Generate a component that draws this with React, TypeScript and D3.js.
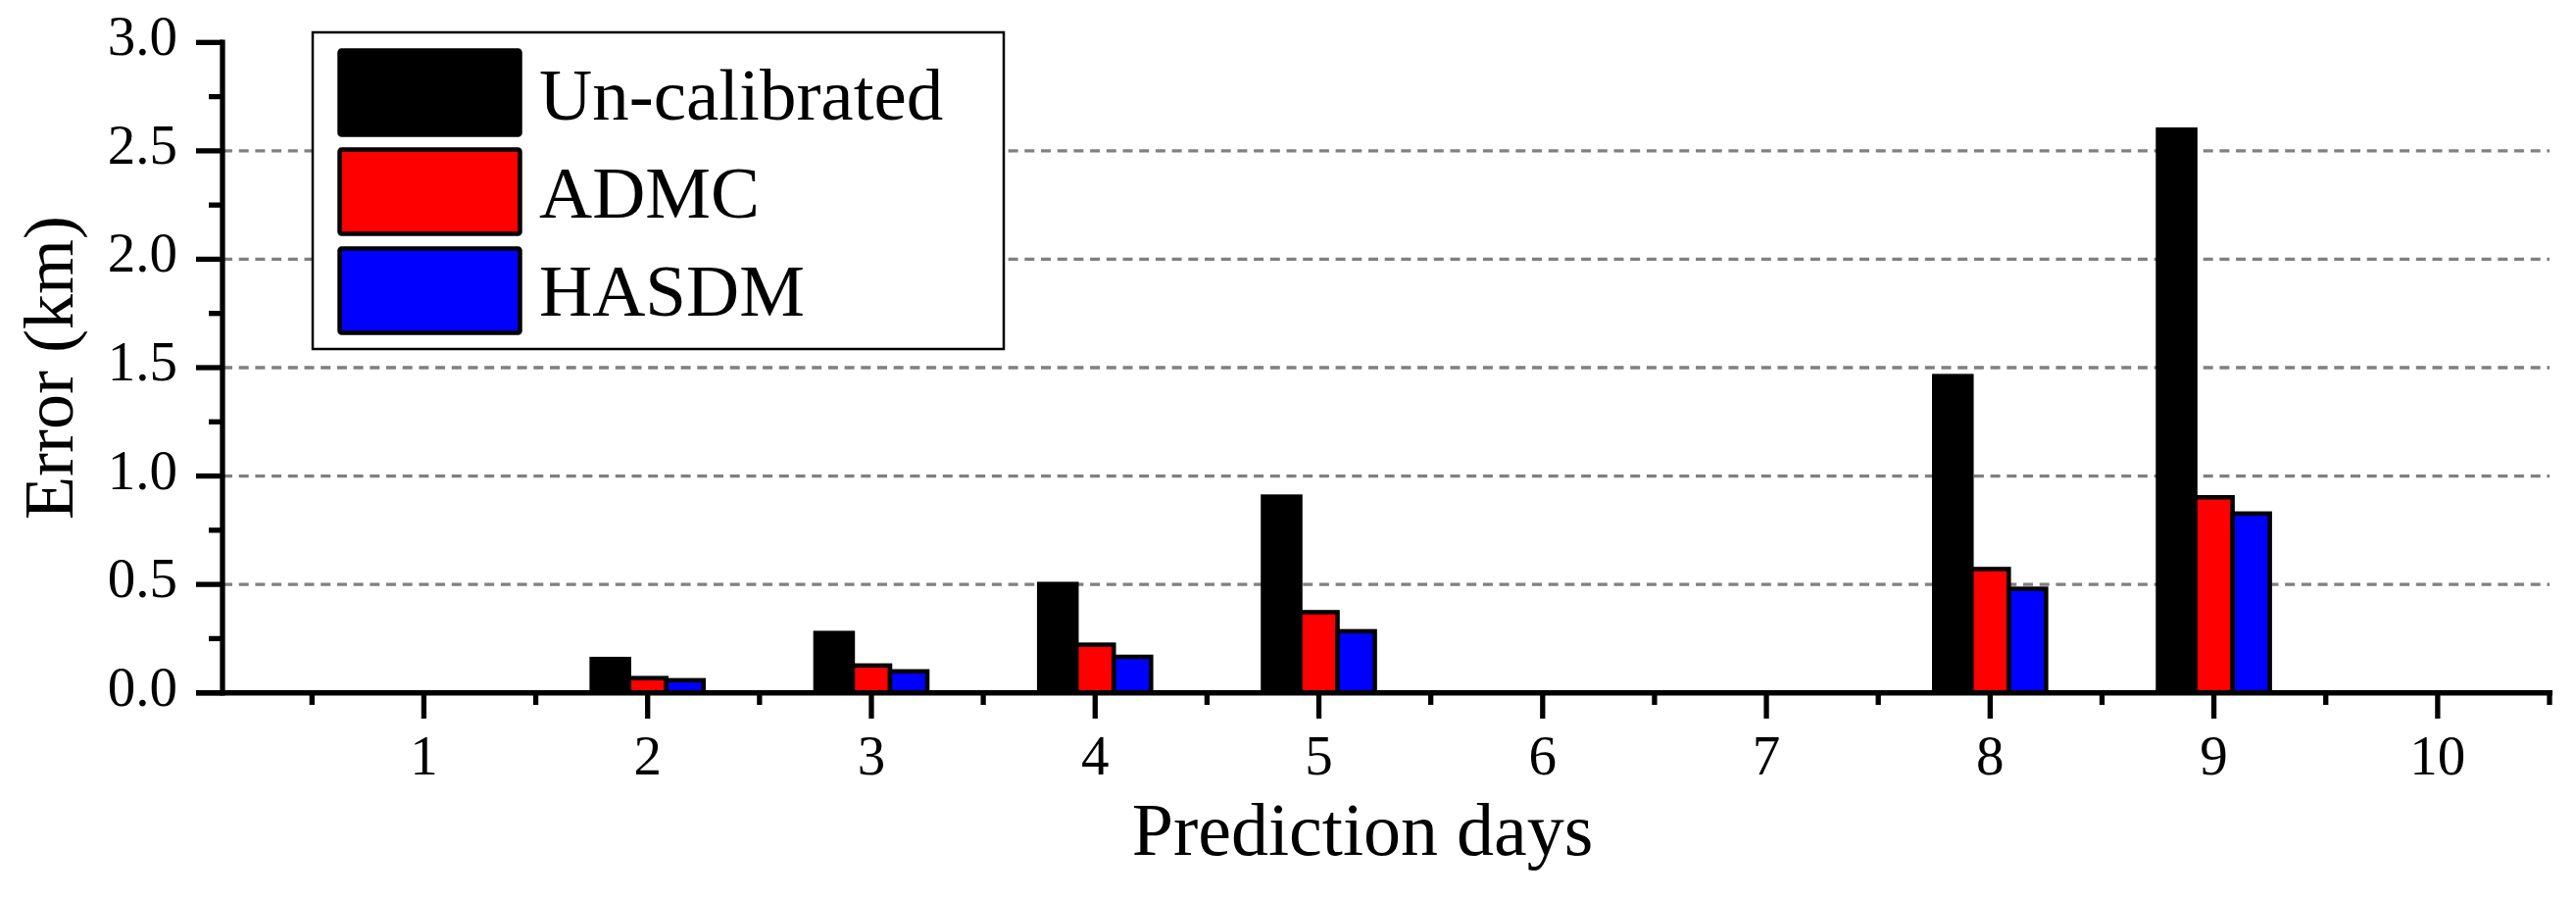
import React from "react";
import * as d3 from "d3";

const days = [1, 2, 3, 4, 5, 6, 7, 8, 9, 10];
const uncalibrated = [null, 0.156, 0.276, 0.502, 0.905, null, null, 1.461, 2.598, null];
const admc = [null, 0.068, 0.126, 0.222, 0.372, null, null, 0.571, 0.902, null];
const hasdm = [null, 0.058, 0.099, 0.166, 0.284, null, null, 0.48, 0.827, null];
const seriesNames = ["Un-calibrated", "ADMC", "HASDM"];
const seriesColors = ["#000000", "#ff0000", "#0000ff"];
const yMajorTicks = [0, 0.5, 1.0, 1.5, 2.0, 2.5, 3.0];
const yMinorTicks = [0.25, 0.75, 1.25, 1.75, 2.25, 2.75];
const gridValues = [0.5, 1.0, 1.5, 2.0, 2.5];
const xMinorTicks = [0.5, 1.5, 2.5, 3.5, 4.5, 5.5, 6.5, 7.5, 8.5, 9.5, 10.5];

const W = 2628;
const H = 916;
const FONT = "'Liberation Serif', 'Times New Roman', serif";

export default function App() {
  const x = d3.scaleLinear().domain([0.1, 10.5]).range([227, 2601]);
  const y = d3.scaleLinear().domain([0, 3]).range([706.7, 43.3]);
  const barW = 1 / 6;
  const series = [uncalibrated, admc, hasdm];
  const x0 = x.range()[0];
  const x1 = x.range()[1];
  const yb = y(0);
  const fmt = d3.format(".1f");

  return (
    <svg
      width={W}
      height={H}
      viewBox={`0 0 ${W} ${H}`}
      style={{ position: "absolute", left: 0, top: 0, background: "#fff" }}
      fontFamily={FONT}
    >
      <rect x={0} y={0} width={W} height={H} fill="#fff" />
      {/* grid lines */}
      {gridValues.map((v) => (
        <line
          key={"g" + v}
          x1={x0}
          x2={x1}
          y1={y(v)}
          y2={y(v)}
          stroke="#808080"
          strokeWidth={3.3}
          strokeDasharray="10 6.7"
        />
      ))}
      {/* bars */}
      {series.map((vals, si) =>
        vals.map((v, i) =>
          v == null ? null : (
            <rect
              key={`b${si}-${i}`}
              x={x(days[i] + (si - 1.5) * barW)}
              y={y(v)}
              width={x(barW) - x(0)}
              height={yb - y(v)}
              fill={seriesColors[si]}
              stroke="#000"
              strokeWidth={4.5}
            />
          )
        )
      )}
      {/* y axis */}
      <line x1={x0} x2={x0} y1={y(3) - 2.7} y2={yb + 2.7} stroke="#000" strokeWidth={5.3} />
      {yMajorTicks.map((t) => (
        <g key={"ym" + t}>
          <line x1={200} x2={x0} y1={y(t)} y2={y(t)} stroke="#000" strokeWidth={5.3} />
          <text x={181} y={y(t) + 13} textAnchor="end" fontSize={57}>
            {fmt(t)}
          </text>
        </g>
      ))}
      {yMinorTicks.map((t) => (
        <line key={"yn" + t} x1={213} x2={x0} y1={y(t)} y2={y(t)} stroke="#000" strokeWidth={5.3} />
      ))}
      {/* x axis */}
      <line x1={200} x2={x1 + 3} y1={yb} y2={yb} stroke="#000" strokeWidth={5.5} />
      {days.map((d) => (
        <g key={"xm" + d}>
          <line x1={x(d)} x2={x(d)} y1={yb} y2={733} stroke="#000" strokeWidth={5.3} />
          <text x={x(d)} y={790} textAnchor="middle" fontSize={57}>
            {d}
          </text>
        </g>
      ))}
      {xMinorTicks.map((t) => (
        <line key={"xn" + t} x1={x(t)} x2={x(t)} y1={yb} y2={719} stroke="#000" strokeWidth={5.3} />
      ))}
      {/* axis titles */}
      <text x={1390} y={872} textAnchor="middle" fontSize={76}>
        Prediction days
      </text>
      <text transform={`translate(74, 375) rotate(-90)`} textAnchor="middle" fontSize={72}>
        Error (km)
      </text>
      {/* legend */}
      <rect x={319} y={33} width={705} height={323} fill="#fff" stroke="#000" strokeWidth={2.5} />
      {seriesNames.map((name, i) => (
        <g key={"l" + name}>
          <rect
            x={346.5}
            y={51.5 + i * 101}
            width={184}
            height={86}
            rx={2}
            fill={seriesColors[i]}
            stroke="#000"
            strokeWidth={4.5}
          />
          <text x={550} y={122 + i * 100} fontSize={75}>
            {name}
          </text>
        </g>
      ))}
    </svg>
  );
}
